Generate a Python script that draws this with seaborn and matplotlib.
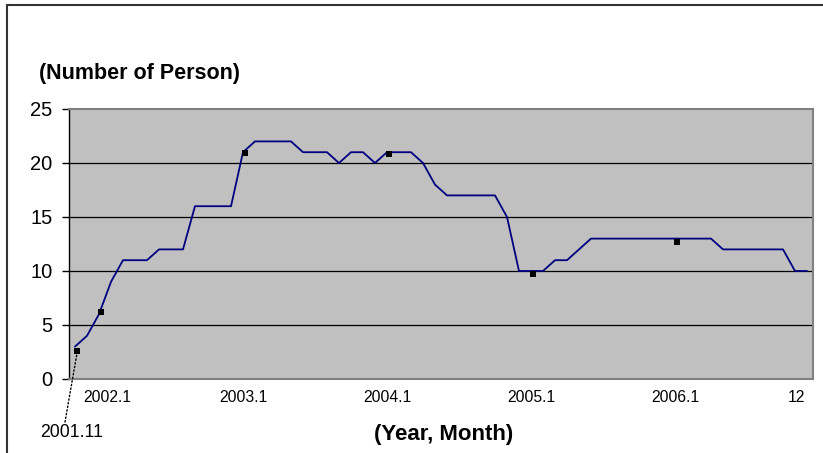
import numpy as np
import pandas as pd
import seaborn as sns
import matplotlib.pyplot as plt
from matplotlib.patches import Rectangle
from matplotlib.transforms import ScaledTranslation

# monthly head count, 2001.11 .. 2006.12
persons = [
    3, 4,                                        # 2001.11-12
    6, 9, 11, 11, 11, 12, 12, 12, 16, 16, 16, 16,  # 2002
    21, 22, 22, 22, 22, 21, 21, 21, 20, 21, 21, 20,  # 2003
    21, 21, 21, 20, 18, 17, 17, 17, 17, 17, 15, 10,  # 2004
    10, 10, 11, 11, 12, 13, 13, 13, 13, 13, 13, 13,  # 2005
    13, 13, 13, 13, 12, 12, 12, 12, 12, 12, 10, 10,  # 2006
]
# small black squares near the January values
mark_idx = [0, 2, 14, 26, 38, 50]
mark_vals = [2.6, 6.2, 20.9, 20.8, 9.7, 12.7]

tick_pos = [2, 14, 26, 38, 50, 61]
tick_labels = ["2002.1", "2003.1", "2004.1", "2005.1", "2006.1", "12"]
y_ticks = [0, 5, 10, 15, 20, 25]

df = pd.DataFrame({"month": np.arange(len(persons)), "persons": persons})
marks = pd.DataFrame({"month": np.array(mark_idx) + 0.2, "persons": mark_vals})

sns.set_style("white")
plt.rcParams["font.family"] = ["Liberation Sans", "DejaVu Sans"]
plt.rcParams["text.color"] = "black"
plt.rcParams["xtick.color"] = "black"
plt.rcParams["ytick.color"] = "black"

fig = plt.figure(figsize=(8.23, 4.53), dpi=100)
ax = fig.add_axes([69 / 823, 74 / 453, 744 / 823, 270 / 453])

# outer chart frame (cut off at right and bottom)
fig.patches.append(Rectangle((7 / 823, -0.1), 1.2, 448 / 453 + 0.1,
                             transform=fig.transFigure, fill=False,
                             edgecolor="#333333", linewidth=1.5))

ax.set_facecolor("#C0C0C0")
sns.lineplot(data=df, x="month", y="persons", ax=ax, color="#000080",
             linewidth=1.3)
sns.scatterplot(data=marks, x="month", y="persons", ax=ax, color="black",
                marker="s", s=18, edgecolor="none", zorder=5)

ax.set_xlim(-0.5, len(persons) - 0.5)
ax.set_ylim(0, 25)
ax.set_yticks(y_ticks)
ax.set_yticklabels([str(v) for v in y_ticks], fontsize=14.5)
ax.set_xticks(tick_pos)
ax.set_xticklabels(tick_labels, fontsize=11.3)
ax.tick_params(axis="x", length=0, pad=8, labelcolor="black")
ax.tick_params(axis="y", length=5, width=1, color="black", pad=7,
               left=True, direction="out", labelcolor="black")
ax.set_xlabel("")
ax.set_ylabel("")

# first and last labels sit slightly inward, as in the original
xl = ax.get_xticklabels()
xl[0].set_transform(xl[0].get_transform() + ScaledTranslation(8 / 100, 0, fig.dpi_scale_trans))
xl[-1].set_transform(xl[-1].get_transform() + ScaledTranslation(-11 / 100, 0, fig.dpi_scale_trans))

for v in y_ticks[1:-1]:
    ax.axhline(v, color="black", linewidth=0.9, zorder=1)

for side in ["top", "right", "bottom"]:
    ax.spines[side].set_color("#808080")
    ax.spines[side].set_linewidth(1.5)
ax.spines["left"].set_color("black")
ax.spines["left"].set_linewidth(1.0)

fig.text(39 / 823, 1 - 79 / 453, "(Number of Person)", fontsize=15.5,
         fontweight="bold", ha="left", va="baseline")
fig.text(444 / 823, 1 - 440 / 453, "(Year, Month)", fontsize=16,
         fontweight="bold", ha="center", va="baseline")
fig.text(40 / 823, 1 - 437 / 453, "2001.11", fontsize=12.7,
         ha="left", va="baseline")

# dotted leader from the first-month label up to the first point
ax.annotate("", xy=(marks["month"][0], mark_vals[0]),
            xytext=(65 / 823, 1 - 422 / 453), textcoords="figure fraction",
            arrowprops=dict(arrowstyle="-", linestyle=":", color="black",
                            linewidth=1.0, shrinkA=0, shrinkB=0),
            annotation_clip=False)

fig.savefig("out.png", dpi=100)
